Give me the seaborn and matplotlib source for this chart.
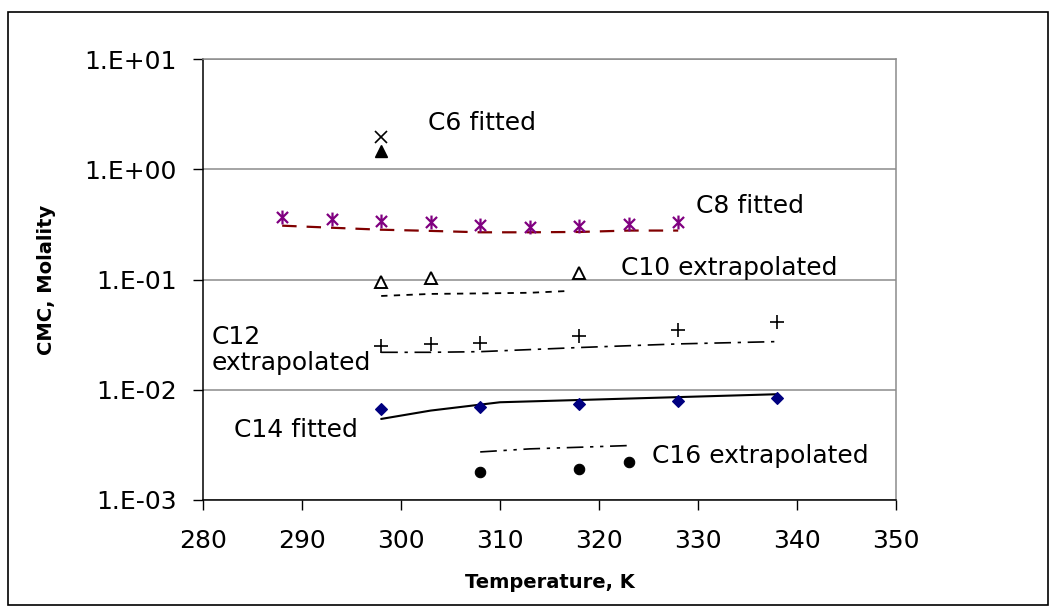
import numpy as np
import matplotlib
matplotlib.use("Agg")
import matplotlib.pyplot as plt
import seaborn as sns
from matplotlib.path import Path
from matplotlib.patches import Rectangle
from matplotlib.ticker import FixedLocator, FixedFormatter, NullLocator

# ---------------- data ----------------
c6_T = [298]
c6_cross = [1.96]
c6_tri = [1.48]

c8_T = [288, 293, 298, 303, 308, 313, 318, 323, 328]
c8_exp = [0.368, 0.353, 0.343, 0.332, 0.312, 0.299, 0.309, 0.320, 0.332]
c8_fit = [0.309, 0.296, 0.284, 0.277, 0.269, 0.269, 0.271, 0.279, 0.279]

c10_T = [298, 303, 318]
c10_exp = [0.0959, 0.104, 0.114]
c10_fit_T = [298, 303, 308, 313, 317]
c10_fit = [0.0711, 0.0742, 0.0750, 0.0760, 0.0790]

c12_T = [298, 303, 308, 318, 328, 338]
c12_exp = [0.0250, 0.0261, 0.0268, 0.0308, 0.0350, 0.0416]
c12_fit = [0.0219, 0.0219, 0.0222, 0.0242, 0.0261, 0.0274]

c14_T = [298, 308, 318, 328, 338]
c14_exp = [0.00671, 0.00695, 0.00740, 0.00793, 0.00850]
c14_fit_T = [298, 303, 310, 320, 330, 338]
c14_fit = [0.00544, 0.00648, 0.00771, 0.00818, 0.00869, 0.00912]

c16_T = [308, 318, 323]
c16_exp = [0.00180, 0.00193, 0.00222]
c16_fit_T = [308, 313, 318, 323]
c16_fit = [0.00273, 0.00291, 0.00301, 0.00312]

x_ticks = [280, 290, 300, 310, 320, 330, 340, 350]
y_ticks = [1e-3, 1e-2, 1e-1, 1e0, 1e1]
y_tick_labels = ["1.E-03", "1.E-02", "1.E-01", "1.E+00", "1.E+01"]

label_texts = ["C6 fitted", "C8 fitted", "C10 extrapolated",
               "C12\nextrapolated", "C14 fitted", "C16 extrapolated"]
label_x = [302.7, 329.8, 322.2, 280.9, 283.1, 325.4]
label_y = [2.64, 0.467, 0.1277, 0.02296, 0.00432, 0.00251]

x_title = "Temperature, K"
y_title = "CMC, Molality"

# ---------------- style ----------------
sns.set_theme(style="white")
plt.rcParams["font.family"] = ["DejaVu Sans"]
plt.rcParams["text.color"] = "black"
plt.rcParams["axes.labelcolor"] = "black"
plt.rcParams["xtick.color"] = "black"
plt.rcParams["ytick.color"] = "black"

fig = plt.figure(figsize=(10.56, 6.14), dpi=100)
ax = fig.add_axes([0.1922, 0.1857, 0.6563, 0.7177])

# asterisk marker (x with vertical bar), like Excel "star"
ast = Path([(-1, -1), (1, 1), (-1, 1), (1, -1), (0, -1.25), (0, 1.25)],
           [Path.MOVETO, Path.LINETO, Path.MOVETO, Path.LINETO, Path.MOVETO, Path.LINETO])

# fitted / extrapolated lines
sns.lineplot(x=c8_T, y=c8_fit, ax=ax, color="#800000", lw=1.6,
             linestyle=(0, (6.5, 4.5)))
sns.lineplot(x=c10_fit_T, y=c10_fit, ax=ax, color="black", lw=1.3,
             linestyle=(0, (3.5, 3.5)))
sns.lineplot(x=c12_T, y=c12_fit, ax=ax, color="black", lw=1.2,
             linestyle=(0, (10, 4, 2, 4)))
sns.lineplot(x=c14_fit_T, y=c14_fit, ax=ax, color="black", lw=1.5,
             linestyle="-")
sns.lineplot(x=c16_fit_T, y=c16_fit, ax=ax, color="black", lw=1.2,
             linestyle=(0, (10, 4, 2, 4, 2, 4)))

# data markers
sns.lineplot(x=c6_T, y=c6_cross, ax=ax, linestyle="none", marker="x",
             markersize=8, markeredgecolor="black", markeredgewidth=1.2, color="black")
sns.lineplot(x=c6_T, y=c6_tri, ax=ax, linestyle="none", marker="^",
             markersize=9, markeredgecolor="black", markerfacecolor="black",
             markeredgewidth=1.0, color="black")
sns.lineplot(x=c8_T, y=c8_exp, ax=ax, linestyle="none", marker=ast,
             markersize=10, markeredgecolor="#800080", markeredgewidth=1.6,
             color="#800080")
sns.lineplot(x=c10_T, y=c10_exp, ax=ax, linestyle="none", marker="^",
             markersize=8, markeredgecolor="black", markerfacecolor="white",
             markeredgewidth=1.4, color="black")
sns.lineplot(x=c12_T, y=c12_exp, ax=ax, linestyle="none", marker="+",
             markersize=10, markeredgecolor="black", markeredgewidth=1.2,
             color="black")
sns.lineplot(x=c14_T, y=c14_exp, ax=ax, linestyle="none", marker="D",
             markersize=6.5, markeredgecolor="#000080", markerfacecolor="#000080",
             markeredgewidth=0.8, color="#000080")
sns.lineplot(x=c16_T, y=c16_exp, ax=ax, linestyle="none", marker="o",
             markersize=7.5, markeredgecolor="black", markerfacecolor="black",
             markeredgewidth=0.8, color="black")

# ---------------- axes ----------------
ax.set_yscale("log")
ax.set_xlim(280, 350)
ax.set_ylim(1e-3, 1e1)
ax.xaxis.set_major_locator(FixedLocator(x_ticks))
ax.yaxis.set_major_locator(FixedLocator(y_ticks))
ax.yaxis.set_major_formatter(FixedFormatter(y_tick_labels))
ax.yaxis.set_minor_locator(NullLocator())
ax.xaxis.set_minor_locator(NullLocator())

ax.grid(False)
ax.yaxis.grid(True, color="#8c8c8c", lw=1.1)
ax.set_axisbelow(True)

for side in ("left", "bottom"):
    ax.spines[side].set_color("black")
    ax.spines[side].set_linewidth(1.1)
for side in ("top", "right"):
    ax.spines[side].set_color("#8c8c8c")
    ax.spines[side].set_linewidth(1.1)

ax.tick_params(axis="y", left=True, length=7, width=1, color="black",
               direction="out", pad=12, labelsize=18, labelcolor="black")
ax.tick_params(axis="x", bottom=True, length=7, width=1, color="black",
               direction="out", pad=14, labelsize=18, labelcolor="black")

ax.set_xlabel(x_title, fontsize=14, fontweight="bold", labelpad=14, color="black")
ax.set_ylabel(y_title, fontsize=14, fontweight="bold", labelpad=20, color="black")

for t, xx, yy in zip(label_texts, label_x, label_y):
    ax.text(xx, yy, t, fontsize=18, ha="left", va="center", color="black",
            linespacing=1.15, zorder=5)

# figure border
fig.patches.append(Rectangle((8 / 1056, 1 - 605 / 614), 1040 / 1056, 593 / 614,
                             transform=fig.transFigure, fill=False,
                             edgecolor="black", lw=1.2))

fig.savefig("out.png", dpi=100, facecolor="white")
